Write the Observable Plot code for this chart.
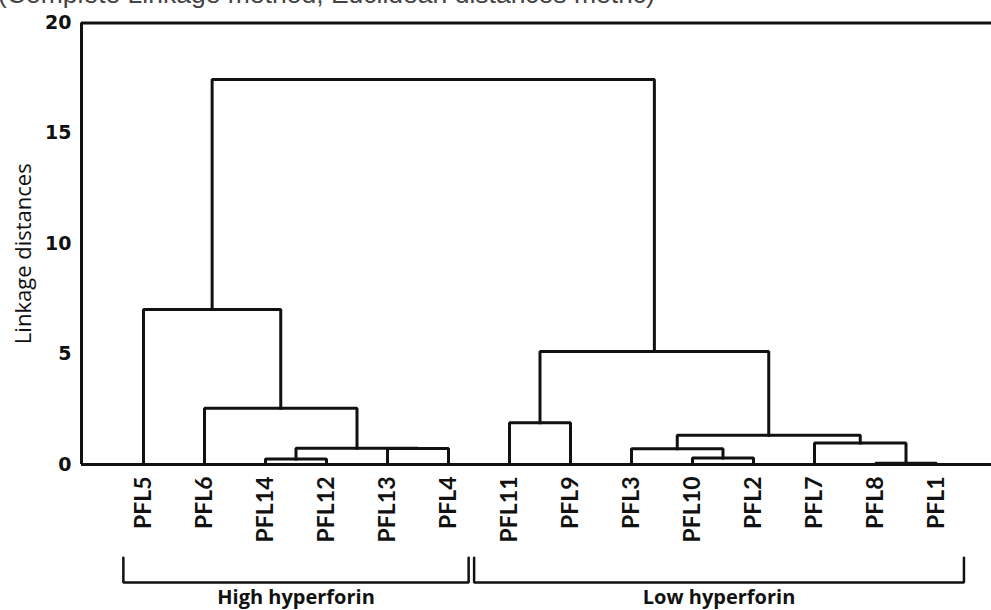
<!DOCTYPE html>
<html><head><meta charset="utf-8">
<script src="https://cdn.jsdelivr.net/npm/d3@7"></script>
<script src="https://cdn.jsdelivr.net/npm/@observablehq/plot@0.6"></script>
<style>
body{margin:0;background:#fff;}
#wrap{position:relative;width:991px;height:610px;overflow:hidden;background:#fff;}
#title{position:absolute;left:-2px;top:-19px;font:26.5px "Liberation Sans",Arial,sans-serif;line-height:1;color:#444;white-space:nowrap;z-index:2;}
#chart{position:absolute;left:0;top:0;}
</style></head><body>
<div id="wrap"><div id="title">(Complete Linkage method, Euclidean distances metric)</div><div id="chart"></div></div>
<script>
// Leaf order along the x axis
const leaves = ["PFL5","PFL6","PFL14","PFL12","PFL13","PFL4","PFL11","PFL9","PFL3","PFL10","PFL2","PFL7","PFL8","PFL1"];
// Merges: [child A, child B, linkage distance, new cluster id]
const merges = [
  ["PFL14","PFL12",0.25,"C1"],
  ["PFL13","PFL4",0.72,"C2"],
  ["C1","C2",0.74,"C3"],
  ["PFL6","C3",2.55,"C4"],
  ["PFL5","C4",7.02,"C5"],
  ["PFL11","PFL9",1.89,"C6"],
  ["PFL10","PFL2",0.29,"C7"],
  ["PFL3","C7",0.71,"C8"],
  ["PFL8","PFL1",0.06,"C9"],
  ["PFL7","C9",0.97,"C10"],
  ["C8","C10",1.32,"C11"],
  ["C6","C11",5.12,"C12"],
  ["C5","C12",17.44,"C13"]
];
const yTicks = [0,5,10,15,20];
const groups = [
  {label:"High hyperforin", first:"PFL5", last:"PFL4", padL:0.33, padR:0.33},
  {label:"Low hyperforin", first:"PFL11", last:"PFL1", padL:0.58, padR:0.45}
];

// Build dendrogram paths
const pos = new Map(leaves.map((d,i)=>[d,{x:i,y:0}]));
const pts = [];
merges.forEach(([a,b,h,id])=>{
  const A=pos.get(a), B=pos.get(b);
  pts.push({id,x:A.x,y:A.y},{id,x:A.x,y:h},{id,x:B.x,y:h},{id,x:B.x,y:B.y});
  pos.set(id,{x:(A.x+B.x)/2,y:h});
});

// Bracket shapes below labels (y in axis units below 0)
const yA = -4.22, yB = -5.35;
const bpts = [];
const gl = [];
groups.forEach(g=>{
  const i0 = leaves.indexOf(g.first)-g.padL, i1 = leaves.indexOf(g.last)+g.padR;
  bpts.push({g:g.label,x:i0,y:yA},{g:g.label,x:i0,y:yB},{g:g.label,x:i1,y:yB},{g:g.label,x:i1,y:yA});
  gl.push({label:g.label,x:(i0+i1)/2});
});

const step = 61;
const chart = Plot.plot({
  width:991, height:610,
  marginLeft:81, marginRight:0, marginTop:22.5, marginBottom:146,
  x:{domain:[-62/step, 848/step], axis:null},
  y:{domain:[0,20], axis:null},
  marks:[
    Plot.ruleY([0,20],{stroke:"#111",strokeWidth:3}),
    Plot.ruleX([-62/step],{y1:0,y2:20,stroke:"#111",strokeWidth:3}),
    Plot.axisY({ticks:yTicks, tickSize:0, tickPadding:10, label:null, fontSize:19, fontWeight:"bold", fontFamily:"DejaVu Sans", fill:"#111"}),
    Plot.text(["Linkage distances"],{frameAnchor:"left", text:d=>d, rotate:-90, textAnchor:"middle", dx:-58, dy:10, fontSize:22, fontFamily:"Open Sans", fill:"#111"}),
    Plot.line(pts,{x:"x",y:"y",z:"id",stroke:"#111",strokeWidth:3,strokeLinejoin:"miter",strokeLinecap:"square"}),
    Plot.text(leaves,{x:(d,i)=>i, y:0, text:d=>d, rotate:-90, textAnchor:"end", dy:12, fontSize:23, fontWeight:"bold", fontFamily:"Lato", fill:"#111"}),
    Plot.line(bpts,{x:"x",y:"y",z:"g",stroke:"#111",strokeWidth:2.5,strokeLinejoin:"miter"}),
    Plot.text(gl,{x:"x",y:yB,text:"label",dy:15,fontSize:20,fontWeight:"bold",fontFamily:"Open Sans",fill:"#111"})
  ]
});
document.getElementById("chart").appendChild(chart);
</script>
</body></html>
